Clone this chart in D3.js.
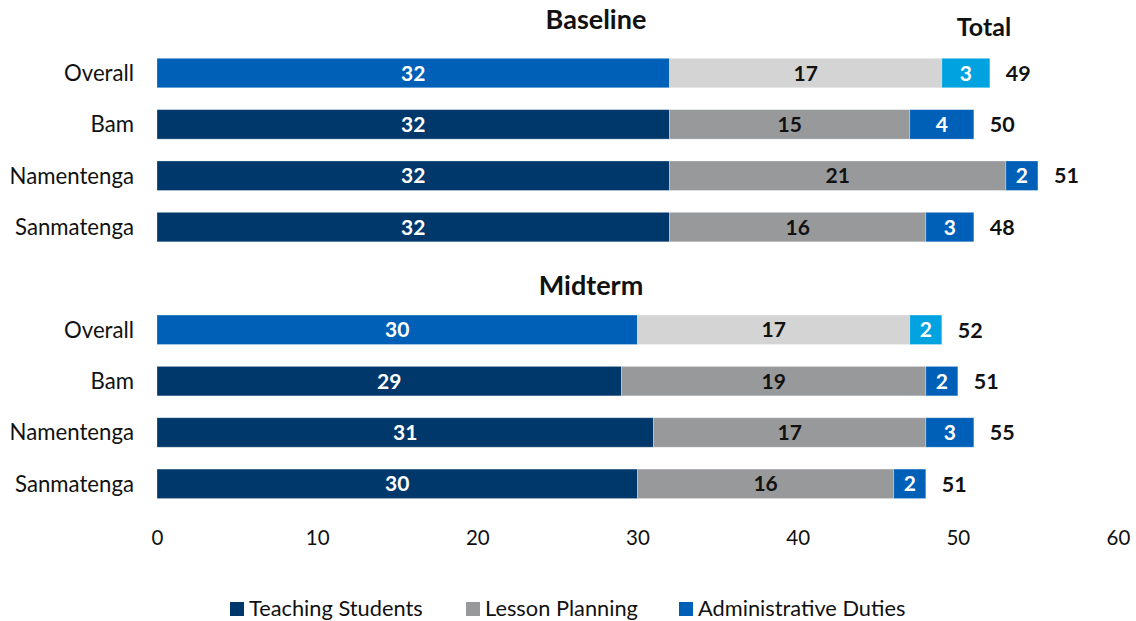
<!DOCTYPE html>
<html>
<head>
<meta charset="utf-8">
<script src="https://cdn.jsdelivr.net/npm/d3@7"></script>
<style>
  html, body { margin: 0; padding: 0; background: #fff; }
  svg { display: block; font-family: Lato, "Open Sans", sans-serif; }
</style>
</head>
<body>
<svg id="chart" width="1136" height="621"></svg>
<script>
// Hours per week by activity, baseline vs midterm
const periods = ["Baseline", "Midterm"];
const categories = ["Overall", "Bam", "Namentenga", "Sanmatenga"];
const seriesNames = ["Teaching Students", "Lesson Planning", "Administrative Duties"];

const teachingBaseline = [32, 32, 32, 32];
const lessonBaseline   = [17, 15, 21, 16];
const adminBaseline    = [3, 4, 2, 3];
const totalBaseline    = [49, 50, 51, 48];

const teachingMidterm  = [30, 29, 31, 30];
const lessonMidterm    = [17, 19, 17, 16];
const adminMidterm     = [2, 2, 3, 2];
const totalMidterm     = [52, 51, 55, 51];

const xTicks = [0, 10, 20, 30, 40, 50, 60];

// colours: regular rows and the highlighted "Overall" rows
const rowColors     = ["#00386b", "#98999b", "#0060b8"];
const overallColors = ["#0060b8", "#d4d4d4", "#00a3e0"];
const labelColors   = ["#fff", "#111", "#fff"];

const rows = [];
periods.forEach((p, pi) => {
  const t = pi === 0 ? teachingBaseline : teachingMidterm;
  const l = pi === 0 ? lessonBaseline : lessonMidterm;
  const a = pi === 0 ? adminBaseline : adminMidterm;
  const tot = pi === 0 ? totalBaseline : totalMidterm;
  categories.forEach((c, ci) => {
    rows.push({ key: p + "|" + c, period: p, category: c, values: [t[ci], l[ci], a[ci]], total: tot[ci] });
  });
});

// y slots: title slot followed by four category rows for each period
const slots = [];
periods.forEach(p => { slots.push(p + "|title"); categories.forEach(c => slots.push(p + "|" + c)); });

const svg = d3.select("#chart");
const x = d3.scaleLinear().domain([0, 60]).range([157, 1118]);
const y = d3.scaleBand().domain(slots).range([-4, 509.5]).paddingInner(0.426).paddingOuter(0.213);

// stacked segments
const g = svg.append("g");
rows.forEach(r => {
  const palette = r.category === "Overall" ? overallColors : rowColors;
  let acc = 0;
  const segs = r.values.map((v, i) => { const s = { x0: acc, x1: acc + v, v, i }; acc += v; return s; });
  const row = g.append("g");
  row.selectAll("rect").data(segs).join("rect")
    .attr("x", d => x(d.x0))
    .attr("y", y(r.key))
    .attr("width", d => x(d.x1) - x(d.x0))
    .attr("height", y.bandwidth())
    .attr("fill", d => palette[d.i])
    .attr("stroke", "#ffffff")
    .attr("stroke-opacity", 0.35)
    .attr("stroke-width", 0.8);
  row.selectAll("text.v").data(segs).join("text")
    .attr("class", "v")
    .attr("x", d => (x(d.x0) + x(d.x1)) / 2)
    .attr("y", y(r.key) + y.bandwidth() / 2)
    .attr("dy", "0.36em")
    .attr("text-anchor", "middle")
    .attr("font-weight", 700)
    .attr("font-size", 21)
    .attr("fill", d => labelColors[d.i])
    .text(d => d.v);
  // total label after the bar
  row.append("text")
    .attr("x", x(acc) + 16)
    .attr("y", y(r.key) + y.bandwidth() / 2)
    .attr("dy", "0.36em")
    .attr("font-weight", 700)
    .attr("font-size", 21.5)
    .attr("fill", "#111")
    .text(r.total);
  // category label
  row.append("text")
    .attr("x", 134)
    .attr("y", y(r.key) + y.bandwidth() / 2)
    .attr("dy", "0.36em")
    .attr("text-anchor", "end")
    .attr("font-size", 22.2)
    .attr("fill", "#111")
    .text(r.category);
});

// period titles
svg.append("text").attr("x", 596).attr("y", 29).attr("text-anchor", "middle")
  .attr("font-weight", 700).attr("font-size", 27).attr("fill", "#111").text(periods[0]);
svg.append("text").attr("x", 591).attr("y", 295).attr("text-anchor", "middle")
  .attr("font-weight", 700).attr("font-size", 27).attr("fill", "#111").text(periods[1]);
svg.append("text").attr("x", 984).attr("y", 36).attr("text-anchor", "middle")
  .attr("font-weight", 700).attr("font-size", 25).attr("fill", "#111").text("Total");

// x axis labels only (no line, no ticks)
const axis = svg.append("g").attr("transform", "translate(0,530)")
  .call(d3.axisBottom(x).tickValues(xTicks).tickSize(0).tickPadding(0));
axis.select(".domain").remove();
axis.selectAll("text").attr("font-family", "Lato, 'Open Sans', sans-serif")
  .attr("font-size", 20.5).attr("fill", "#111").attr("dy", "0.72em");

// legend
const legendX = [230, 466, 679];
const legend = svg.append("g").selectAll("g").data(seriesNames).join("g")
  .attr("transform", (d, i) => `translate(${legendX[i]},602)`);
legend.append("rect").attr("width", 14).attr("height", 14).attr("fill", (d, i) => rowColors[i]);
legend.append("text").attr("x", 19).attr("y", 14)
  .attr("font-size", 21.8).attr("fill", "#111").text(d => d);
</script>
</body>
</html>
